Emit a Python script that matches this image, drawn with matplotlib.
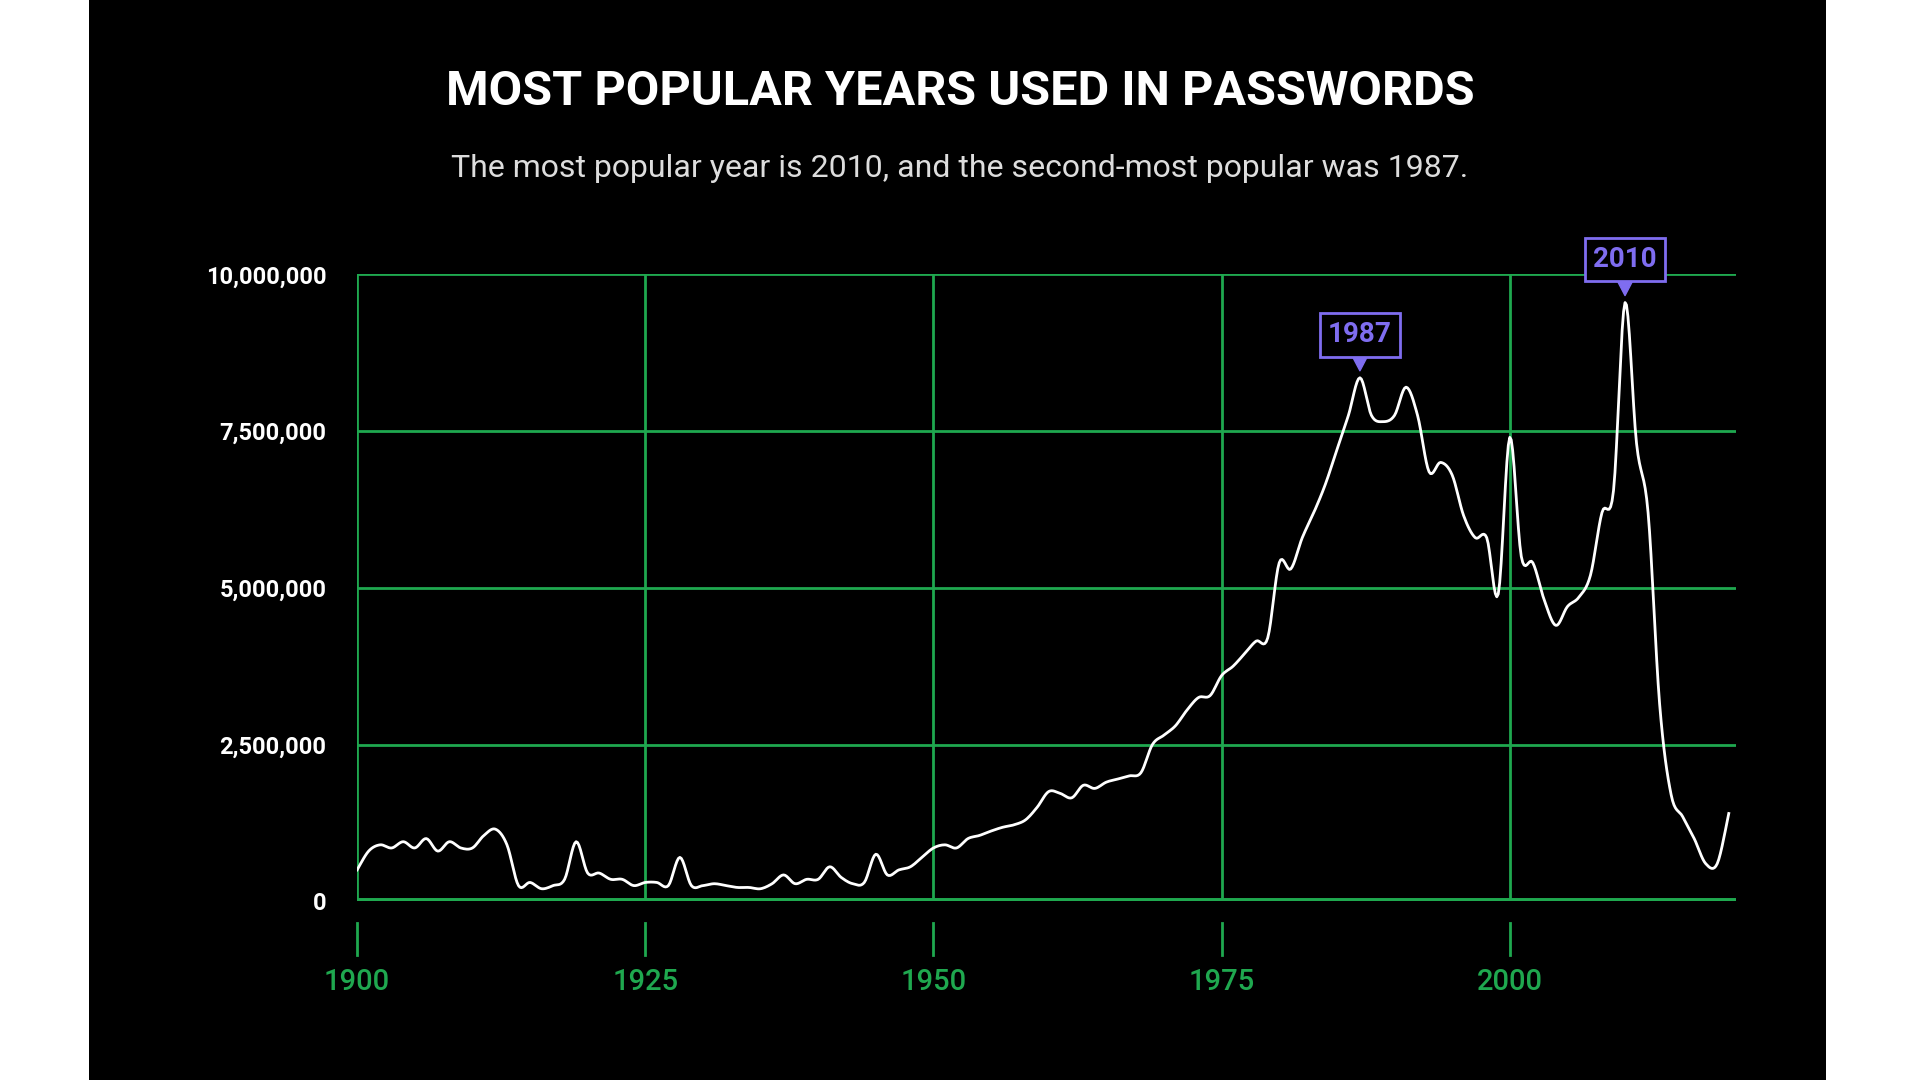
import matplotlib
matplotlib.use("Agg")
import matplotlib.pyplot as plt
import numpy as np

years = list(range(1900, 2020))
values_m = [0.5,0.8,0.9,0.85,0.95,0.85,1.0,0.8,0.95,0.85,0.85,1.05,1.15,0.9,0.25,0.3,0.2,0.25,0.35,0.95,
            0.45,0.45,0.35,0.35,0.25,0.3,0.3,0.25,0.7,0.25,0.25,0.28,0.25,0.22,0.22,0.2,0.28,0.42,0.28,0.35,
            0.35,0.55,0.38,0.28,0.3,0.75,0.42,0.5,0.55,0.7,0.85,0.9,0.85,1.0,1.05,1.12,1.18,1.22,1.3,1.5,
            1.75,1.72,1.65,1.85,1.8,1.9,1.95,2.0,2.05,2.5,2.65,2.8,3.05,3.25,3.28,3.6,3.75,3.95,4.15,4.2,
            5.4,5.3,5.8,6.2,6.65,7.2,7.75,8.35,7.75,7.65,7.75,8.2,7.75,6.85,7.0,6.8,6.15,5.8,5.8,4.9,
            7.4,5.5,5.4,4.8,4.4,4.7,4.85,5.2,6.2,6.55,9.55,7.3,6.2,3.15,1.7,1.35,1.0,0.6,0.6,1.4]
values = [v * 1e6 for v in values_m]
xticks = [1900, 1925, 1950, 1975, 2000]
yticks = [0, 2500000, 5000000, 7500000, 10000000]
ytick_labels = ["0", "2,500,000", "5,000,000", "7,500,000", "10,000,000"]
callouts = [(1987, "1987"), (2010, "2010")]

GREEN = "#1fa84f"
PURPLE = "#7f6df0"
plt.rcParams['font.family'] = ['Roboto', 'DejaVu Sans']

def smooth(x, y, n=8):
    # Catmull-Rom spline through the data points (drawing only)
    x = np.asarray(x, float); y = np.asarray(y, float)
    xp = np.concatenate([[x[0]], x, [x[-1]]]); yp = np.concatenate([[y[0]], y, [y[-1]]])
    xs, ys = [], []
    t = np.linspace(0, 1, n, endpoint=False)
    for i in range(1, len(xp) - 2):
        for arr, out in ((xp, xs), (yp, ys)):
            p0, p1, p2, p3 = arr[i-1], arr[i], arr[i+1], arr[i+2]
            out.extend(0.5 * (2*p1 + (-p0 + p2)*t + (2*p0 - 5*p1 + 4*p2 - p3)*t**2 + (-p0 + 3*p1 - 3*p2 + p3)*t**3))
    xs.append(x[-1]); ys.append(y[-1])
    return xs, ys

fig = plt.figure(figsize=(19.2, 10.8), dpi=100, facecolor="white")
bg = fig.add_axes([0.0466, 0, 0.9044, 1])
bg.set_facecolor("black"); bg.set_xticks([]); bg.set_yticks([])
for s in bg.spines.values(): s.set_visible(False)

ax = fig.add_axes([0.186, 0.1655, 0.718, 0.5805])
ax.set_facecolor("black")
ax.set_xlim(1900, 2019.6)
ax.set_ylim(0, 10000000)
for s in ax.spines.values(): s.set_visible(False)
for x in xticks:
    ax.axvline(x, color=GREEN, lw=2)
for y in yticks:
    ax.axhline(y, color=GREEN, lw=5 if y == 0 else 2)
sx, sy = smooth(years, values)
ax.plot(sx, sy, color="white", lw=2, solid_joinstyle="round")
ax.set_xticks(xticks)
ax.set_xticklabels([str(x) for x in xticks], color=GREEN, fontsize=21, fontweight="medium")
ax.tick_params(axis="x", length=0, pad=48)
ax.set_yticks(yticks)
ax.set_yticklabels(ytick_labels, color="white", fontsize=17, fontweight="bold")
ax.tick_params(axis="y", length=0, pad=22)
trans = ax.get_xaxis_transform()
for x in xticks:
    ax.plot([x, x], [-0.035, -0.085], color=GREEN, lw=2, transform=trans, clip_on=False)

for yr, lab in callouts:
    v = values[years.index(yr)]
    ax.annotate(lab, xy=(yr, v), xytext=(0, 31), textcoords="offset points",
                ha="center", va="center", color=PURPLE, fontsize=20, fontweight="bold",
                bbox=dict(boxstyle="square,pad=0.3", fc="black", ec=PURPLE, lw=2),
                arrowprops=dict(arrowstyle="wedge,tail_width=0.5", color=PURPLE, lw=1, shrinkA=0, shrinkB=5))

fig.text(0.5, 0.915, "MOST POPULAR YEARS USED IN PASSWORDS", ha="center", va="center",
         color="white", fontsize=35, fontweight="bold")
fig.text(0.5, 0.844, "The most popular year is 2010, and the second-most popular was 1987.",
         ha="center", va="center", color="#dddddd", fontsize=23)
fig.savefig("out.png", dpi=100, facecolor="white")
